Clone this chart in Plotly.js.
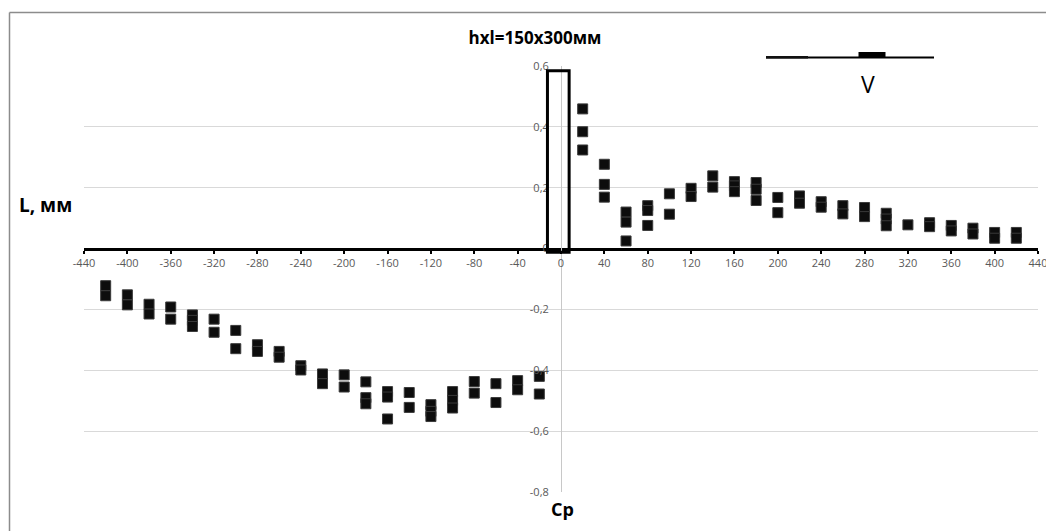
<!DOCTYPE html>
<html>
<head>
<meta charset="utf-8">
<script src="https://cdn.plot.ly/plotly-3.0.1.min.js"></script>
<style>
  html, body { margin: 0; padding: 0; background: #fff; }
  #chart { width: 1046px; height: 531px; }
</style>
</head>
<body>
<div id="chart"></div>
<script>
// ---- data ----
var cpNeg = [-420,-420, -400,-400, -380,-380, -360,-360, -340,-340,-340, -320,-320,
             -300,-300, -280,-280, -260,-260, -240,-240, -220,-220, -200,-200,
             -180,-180,-180, -160,-160,-160, -140,-140, -120,-120,-120,
             -100,-100,-100, -80,-80, -60,-60, -40,-40, -20,-20];
var lNeg  = [-0.122,-0.155, -0.152,-0.185, -0.183,-0.215, -0.192,-0.232, -0.218,-0.236,-0.256, -0.232,-0.275,
             -0.269,-0.329, -0.316,-0.338, -0.338,-0.357, -0.385,-0.399, -0.412,-0.444, -0.415,-0.455,
             -0.438,-0.490,-0.510, -0.470,-0.488,-0.560, -0.473,-0.522, -0.513,-0.535,-0.552,
             -0.470,-0.499,-0.524, -0.437,-0.475, -0.444,-0.506, -0.434,-0.464, -0.420,-0.478];
var cpPos = [20,20,20, 40,40,40, 60,60,60, 80,80,80, 100,100, 120,120, 140,140,
             160,160,160, 180,180,180, 200,200, 220,220, 240,240, 260,260, 280,280,
             300,300,300, 320, 340,340, 360,360, 380,380, 400,400, 420,420];
var lPos  = [0.459,0.384,0.324, 0.277,0.211,0.169, 0.120,0.087,0.025, 0.141,0.125,0.076, 0.180,0.113, 0.198,0.171, 0.239,0.202,
             0.220,0.206,0.187, 0.217,0.195,0.158, 0.168,0.118, 0.173,0.149, 0.154,0.136, 0.141,0.114, 0.135,0.105,
             0.116,0.097,0.075, 0.078, 0.085,0.072, 0.076,0.058, 0.067,0.048, 0.053,0.034, 0.053,0.034];

var xTickVals = [-440,-400,-360,-320,-280,-240,-200,-160,-120,-80,-40,0,40,80,120,160,200,240,280,320,360,400,440];
var xTickText = ['-440','-400','-360','-320','-280','-240','-200','-160','-120','-80','-40','0','40','80','120','160','200','240','280','320','360','400','440'];
var yTickVals = [0.6,0.4,0.2,0,-0.2,-0.4,-0.6,-0.8];
var yTickText = ['0,6','0,4','0,2','0','-0,2','-0,4','-0,6','-0,8'];

var titleText = 'hxl=150x300мм';
var yTitle = 'L, мм';
var xTitle = 'Cp';
var symbolText = 'V';

// ---- layout geometry ----
var W = 1046, H = 531;
var M = {l: 84, r: 8, t: 66, b: 39};
var pw = W - M.l - M.r, ph = H - M.t - M.b;
function px(x) { return (x - M.l) / pw; }          // pixel x -> paper x
function py(y) { return (H - M.b - y) / ph; }      // pixel y -> paper y

var trace = {
  x: cpNeg.concat(cpPos),
  y: lNeg.concat(lPos),
  type: 'scatter',
  mode: 'markers',
  marker: {symbol: 'square', size: 10, color: '#0d0d0d', line: {color: '#3a3a3a', width: 1}},
  hoverinfo: 'x+y',
  showlegend: false
};

var tickFont = {family: 'Open Sans, sans-serif', size: 11, color: '#595959'};

var layout = {
  width: W, height: H,
  margin: M,
  paper_bgcolor: '#fff', plot_bgcolor: 'rgba(0,0,0,0)',
  separators: ', ',
  showlegend: false,
  title: {
    text: '<b>' + titleText + '</b>',
    x: 535 / W, xanchor: 'center',
    y: 1 - 38 / H, yanchor: 'middle',
    font: {family: 'Open Sans, sans-serif', size: 17, color: '#000'}
  },
  xaxis: {
    range: [-440, 440],
    anchor: 'free', position: 0.8 / 1.4,
    showgrid: false, zeroline: false,
    showline: true, linecolor: '#000', linewidth: 3,
    ticks: 'outside', ticklen: 3, tickwidth: 2, tickcolor: '#000',
    tickmode: 'array', tickvals: xTickVals, ticktext: xTickText,
    ticklabeloverflow: 'allow',
    tickfont: tickFont, automargin: false, fixedrange: true
  },
  yaxis: {
    range: [-0.8, 0.6],
    anchor: 'free', position: 0.5,
    showgrid: true, gridcolor: '#d9d9d9', gridwidth: 1,
    zeroline: false,
    showline: true, linecolor: '#c8c8c8', linewidth: 1,
    ticks: '', ticklabelstandoff: 10,
    tickmode: 'array', tickvals: yTickVals, ticktext: yTickText,
    tickfont: tickFont, automargin: false, fixedrange: true
  },
  shapes: [
    // outer chart frame (top and left edges)
    {type: 'line', xref: 'paper', yref: 'paper', x0: px(9.5), x1: px(W), y0: py(12.5), y1: py(12.5),
     line: {color: '#8c8c8c', width: 1.5}},
    {type: 'line', xref: 'paper', yref: 'paper', x0: px(9.5), x1: px(9.5), y0: py(12.5), y1: py(H),
     line: {color: '#8c8c8c', width: 1.5}},
    // rectangle near Cp = 0
    {type: 'rect', xref: 'x', yref: 'y', x0: -12.5, x1: 7.5, y0: -0.0125, y1: 0.584,
     line: {color: '#000', width: 3}, fillcolor: 'rgba(0,0,0,0)'},
    // "V" symbol: long line, thicker left part, small block
    {type: 'line', xref: 'paper', yref: 'paper', x0: px(766), x1: px(934), y0: py(57.5), y1: py(57.5),
     line: {color: '#000', width: 2}},
    {type: 'line', xref: 'paper', yref: 'paper', x0: px(766), x1: px(808), y0: py(57.3), y1: py(57.3),
     line: {color: '#111', width: 2.6}},
    {type: 'rect', xref: 'paper', yref: 'paper', x0: px(858.5), x1: px(885.5), y0: py(57.5), y1: py(52),
     line: {width: 0}, fillcolor: '#000'}
  ],
  annotations: [
    {text: '<b>' + yTitle + '</b>', xref: 'paper', yref: 'paper', x: px(45.5), y: py(205),
     xanchor: 'center', yanchor: 'middle', showarrow: false,
     font: {family: 'Open Sans, sans-serif', size: 19, color: '#000'}},
    {text: '<b>' + xTitle + '</b>', xref: 'paper', yref: 'paper', x: px(562), y: py(509),
     xanchor: 'center', yanchor: 'middle', showarrow: false,
     font: {family: 'Open Sans, sans-serif', size: 18, color: '#000'}},
    {text: symbolText, xref: 'paper', yref: 'paper', x: px(868), y: py(84),
     xanchor: 'center', yanchor: 'middle', showarrow: false,
     font: {family: 'Open Sans, sans-serif', size: 23, color: '#000'}}
  ]
};

Plotly.newPlot('chart', [trace], layout, {displayModeBar: false, staticPlot: true});
</script>
</body>
</html>
